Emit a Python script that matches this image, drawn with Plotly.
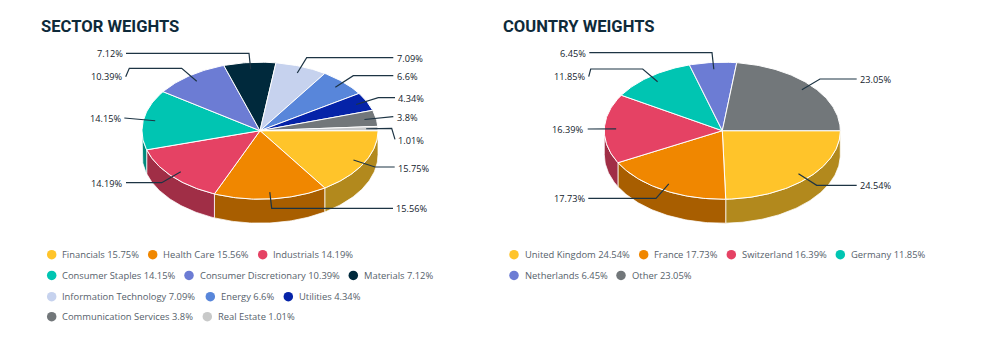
import math
import plotly.graph_objects as go

# ---- data ----
sector_names = ["Financials", "Health Care", "Industrials", "Consumer Staples", "Consumer Discretionary",
                "Materials", "Information Technology", "Energy", "Utilities", "Communication Services", "Real Estate"]
sector_values = [15.75, 15.56, 14.19, 14.15, 10.39, 7.12, 7.09, 6.6, 4.34, 3.8, 1.01]
sector_colors = ["#FFC42A", "#F08700", "#E54264", "#00C5B2", "#6C7CD4", "#00293C",
                 "#C6D2EE", "#5886DA", "#0523A8", "#72777A", "#C8C9C9"]

country_names = ["United Kingdom", "France", "Switzerland", "Germany", "Netherlands", "Other"]
country_values = [24.54, 17.73, 16.39, 11.85, 6.45, 23.05]
country_colors = ["#FFC42A", "#F08700", "#E54264", "#00C5B2", "#6C7CD4", "#72777A"]

# ---- layout (pixel-space axes) ----
W, H = 993, 351
RX, RY, DEPTH = 118, 68.5, 24
CY = 130.7
TITLE_COLOR = "#0E2A3A"
LABEL_COLOR = "#13222C"
LEG_COLOR = "#56616B"
LINE_COLOR = "#1D3444"

# connector routes after the slice anchor, label x, label y, anchor side
sector_routes = [
    ([(375, 167), (394.7, 167)], 397, 168.5, "left"),
    ([(271.7, 208.3), (393, 208.3)], 395, 208.5, "left"),
    ([(161.7, 182.7), (126, 182.7)], 123, 183, "right"),
    ([(130, 118), (124.3, 118)], 122, 118.5, "right"),
    ([(181.7, 68.3), (129.3, 68.3), (125.7, 76.7)], 123, 76.5, "right"),
    ([(249, 53.3), (126, 53.3)], 124, 53.5, "right"),
    ([(306.7, 57.7), (393.3, 57.7)], 396, 58.5, "left"),
    ([(353.3, 75.7), (393.3, 75.7)], 396, 76.5, "left"),
    ([(378.3, 97.7), (395, 97.7)], 397, 98, "left"),
    ([(393.3, 116.7)], 396, 117, "left"),
    ([(391.7, 128.3), (395, 139.3)], 397, 140.5, "left"),
]
country_routes = [
    ([(816.7, 185.3), (856.7, 185.3)], 859, 185.5, "left"),
    ([(656, 198.3), (588.3, 198.3)], 586, 198.5, "right"),
    ([(587.7, 129)], 584, 129, "right"),
    ([(642.7, 69), (590.7, 69), (588.7, 76.7)], 586, 76.5, "right"),
    ([(712, 52.7), (589.3, 52.7)], 587, 53.5, "right"),
    ([(820, 79), (856.7, 79)], 859, 79.5, "left"),
]

# legend slots: (dot x, row y)
sector_legend = [(51.7, 254.7), (152.7, 254.7), (262.7, 254.7),
                 (51.7, 275.4), (189, 275.4), (353.3, 275.4),
                 (51.7, 296.7), (210.3, 296.7), (288.3, 296.7),
                 (51.7, 316.7), (207.3, 316.7)]
country_legend = [(514, 254.7), (643.7, 254.7), (731.3, 254.7), (840.3, 254.7),
                  (514, 275.4), (621, 275.4)]


def darken(c, k=0.7):
    r, g, b = int(c[1:3], 16), int(c[3:5], 16), int(c[5:7], 16)
    return f"rgb({int(r*k)},{int(g*k)},{int(b*k)})"


fig = go.Figure()
annotations = []


def text(x, y, s, color, size, anchor="left", family="Open Sans"):
    annotations.append(dict(x=x, y=y, xref="x", yref="y", text=s, showarrow=False, xanchor=anchor,
                            yanchor="middle", align=anchor, font=dict(family=family, size=size, color=color),
                            borderpad=0, xshift=0))


def arc(cx, a0, a1, dy=0.0):
    n = max(2, int(abs(a1 - a0) / 1.0) + 2)
    xs, ys = [], []
    for i in range(n):
        a = math.radians(a0 + (a1 - a0) * i / (n - 1))
        xs.append(cx + RX * math.cos(a))
        ys.append(CY + dy + RY * math.sin(a))
    return xs, ys


def pie3d(cx, names, values, colors, routes, legend, title, title_x):
    total = sum(values)
    cum = 0.0
    spans = []
    for v in values:
        a0 = cum / total * 360
        cum += v
        spans.append((a0, cum / total * 360))
    for (a0, a1), c in zip(spans, colors):
        if a0 >= 180:
            continue
        e = min(a1, 180)
        x1, y1 = arc(cx, a0, e)
        x2, y2 = arc(cx, e, a0, DEPTH)
        fig.add_trace(go.Scatter(x=x1 + x2 + x1[:1], y=y1 + y2 + y1[:1], mode="lines", fill="toself",
                                 fillcolor=darken(c), line=dict(color="rgba(255,255,255,0.75)", width=1),
                                 hoverinfo="skip", showlegend=False))
    for (a0, a1), c in zip(spans, colors):
        x1, y1 = arc(cx, a0, a1)
        fig.add_trace(go.Scatter(x=[cx] + x1 + [cx], y=[CY] + y1 + [CY], mode="lines", fill="toself",
                                 fillcolor=c, line=dict(color="#FFFFFF", width=1),
                                 hoverinfo="skip", showlegend=False))
    for (a0, a1), v, (route, lx, ly, side) in zip(spans, values, routes):
        m = math.radians((a0 + a1) / 2)
        sx, sy = cx + 0.9 * RX * math.cos(m), CY + 0.9 * RY * math.sin(m)
        xs = [sx] + [p[0] for p in route]
        ys = [sy] + [p[1] for p in route]
        fig.add_trace(go.Scatter(x=xs, y=ys, mode="lines", line=dict(color=LINE_COLOR, width=1.2),
                                 hoverinfo="skip", showlegend=False))
        text(lx, ly, f"{v}%", LABEL_COLOR, 9.2, side)
    for n, v, c, (dx, dy) in zip(names, values, colors, legend):
        fig.add_trace(go.Scatter(x=[dx], y=[dy], mode="markers", marker=dict(color=c, size=9.5, line=dict(width=0)),
                                 hoverinfo="skip", showlegend=False))
        text(dx + 9.7, dy, f"{n} {v}%", LEG_COLOR, 9.4)
    text(title_x, 26, f"<b>{title}</b>", TITLE_COLOR, 16.6, family="Roboto")


pie3d(260, sector_names, sector_values, sector_colors, sector_routes, sector_legend, "SECTOR WEIGHTS", 40)
pie3d(722.3, country_names, country_values, country_colors, country_routes, country_legend, "COUNTRY WEIGHTS", 502)

fig.update_layout(
    width=W, height=H, margin=dict(l=0, r=0, t=0, b=0), paper_bgcolor="white", plot_bgcolor="white",
    showlegend=False, annotations=annotations,
    xaxis=dict(range=[0, W], visible=False, fixedrange=True),
    yaxis=dict(range=[H, 0], visible=False, fixedrange=True),
)
fig.write_html("out.html", config={"displayModeBar": False},
               post_script="document.body.style.margin='0';document.documentElement.style.overflow='hidden';")
